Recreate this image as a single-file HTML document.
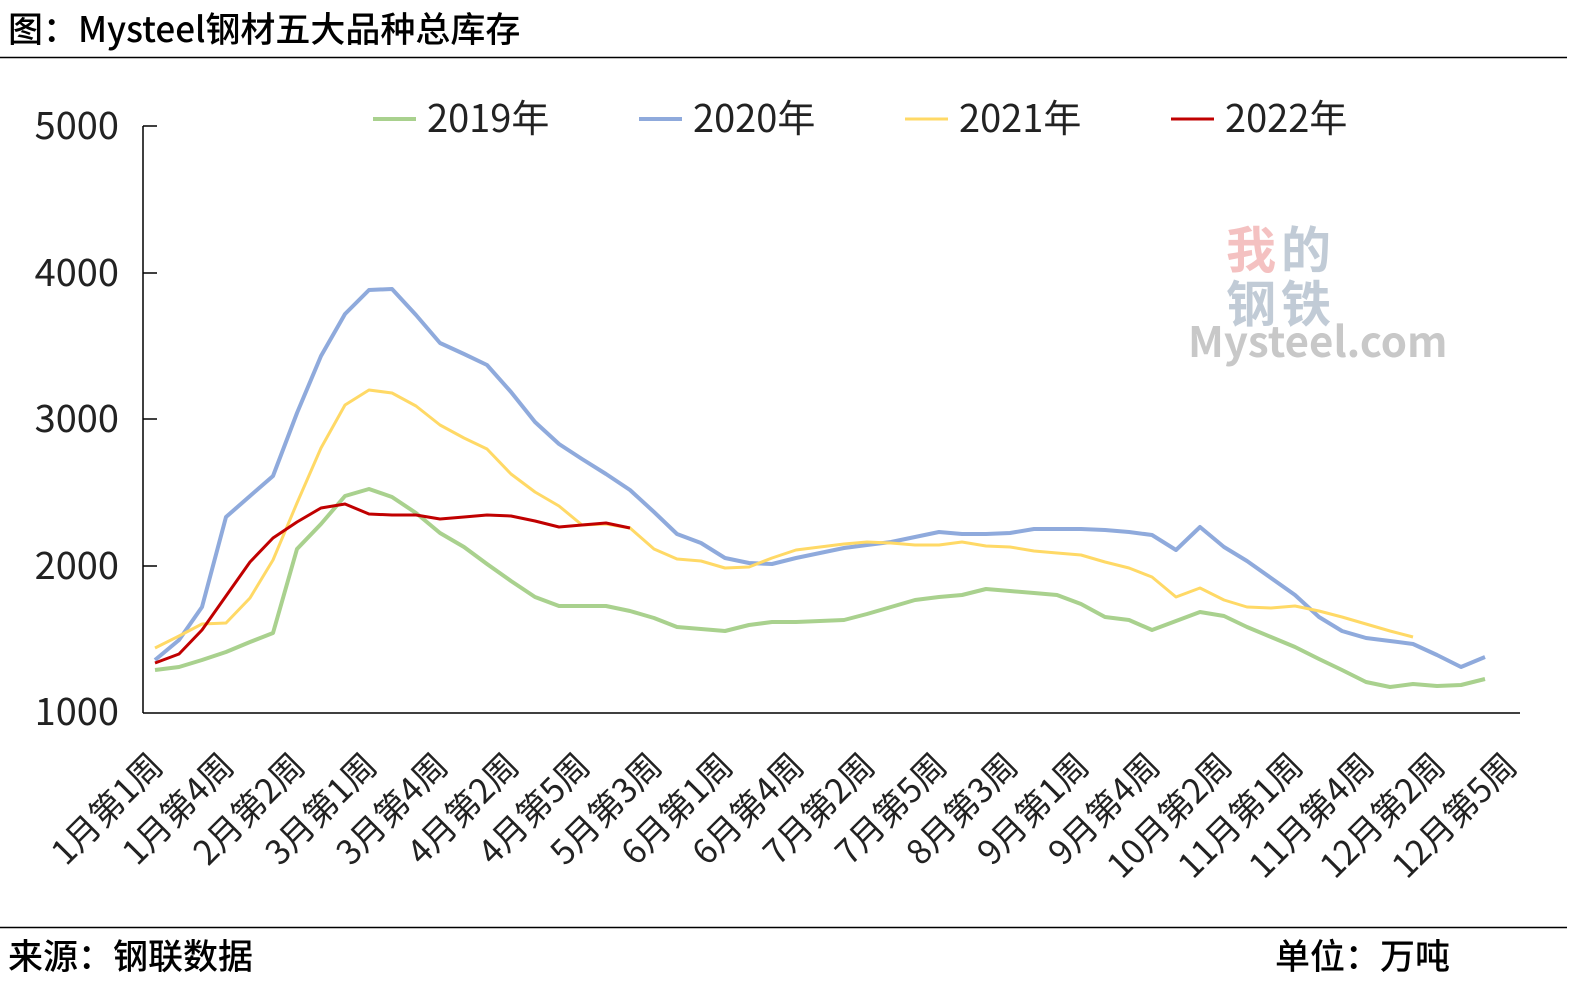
<!DOCTYPE html>
<html><head><meta charset="utf-8"><style>
body{margin:0;background:#fff;}
svg{display:block;font-family:"Noto Sans CJK SC","Liberation Sans",sans-serif;}
</style></head><body>
<svg width="1570" height="987" viewBox="0 0 1570 987" xmlns="http://www.w3.org/2000/svg">
<text x="8" y="42" font-size="35" font-weight="500" fill="#000">图：Mysteel钢材五大品种总库存</text>
<line x1="0" y1="57.5" x2="1567" y2="57.5" stroke="#000" stroke-width="1.5"/>
<line x1="0" y1="927.5" x2="1567" y2="927.5" stroke="#000" stroke-width="1.5"/>
<text x="8" y="969" font-size="35" font-weight="500" fill="#000">来源：钢联数据</text>
<text x="1275" y="969" font-size="35" font-weight="500" fill="#000">单位：万吨</text>
<!-- watermark -->
<text x="1226" y="268" font-size="50" fill="#e99" opacity="0.6" font-weight="bold">我</text>
<text x="1281" y="268" font-size="50" fill="#9ab" opacity="0.6" font-weight="bold">的</text>
<text x="1226" y="322" font-size="50" fill="#9ab" opacity="0.6" font-weight="bold">钢</text>
<text x="1281" y="322" font-size="50" fill="#9ab" opacity="0.6" font-weight="bold">铁</text>
<text x="1188" y="357" font-size="42" fill="#bbb" opacity="0.8" font-weight="bold">Mysteel.com</text>
<!-- axes -->
<g stroke="#000" stroke-width="1.5">
<line x1="143" y1="126" x2="143" y2="713"/>
<line x1="143" y1="713" x2="1520" y2="713"/>
<line x1="143" y1="126" x2="157" y2="126"/>
<line x1="143" y1="273" x2="157" y2="273"/>
<line x1="143" y1="419" x2="157" y2="419"/>
<line x1="143" y1="566" x2="157" y2="566"/>
</g>
<g font-size="38" fill="#222" text-anchor="end">
<text x="119" y="139">5000</text>
<text x="119" y="286">4000</text>
<text x="119" y="432">3000</text>
<text x="119" y="579">2000</text>
<text x="119" y="725">1000</text>
</g>
<!-- legend -->
<g font-size="38" fill="#222">
<line x1="373" y1="119" x2="416" y2="119" stroke="#a9d18e" stroke-width="4"/><text x="427" y="132">2019年</text>
<line x1="639" y1="119" x2="682" y2="119" stroke="#8faadc" stroke-width="4"/><text x="693" y="132">2020年</text>
<line x1="905" y1="119" x2="948" y2="119" stroke="#ffd966" stroke-width="3"/><text x="959" y="132">2021年</text>
<line x1="1171" y1="119" x2="1214" y2="119" stroke="#c00000" stroke-width="3"/><text x="1225" y="132">2022年</text>
</g>
<g fill="none" stroke-linejoin="round">
<polyline stroke="#a9d18e" stroke-width="4" points="155,670 179,667 202,660 226,652 250,642 273,633 297,549 321,524 345,496 369,489 392,497 416,513 440,533 464,547 487,564 511,581 535,597 559,606 582,606 606,606 630,611 654,618 677,627 701,629 725,631 749,625 772,622 796,622 820,621 844,620 867,614 891,607 915,600 939,597 962,595 986,589 1010,591 1034,593 1057,595 1081,604 1105,617 1129,620 1152,630 1176,621 1200,612 1224,616 1247,627 1271,637 1295,647 1319,659 1342,670 1366,682 1390,687 1413,684 1437,686 1461,685 1485,679"/>
<polyline stroke="#8faadc" stroke-width="4" points="155,660 179,640 202,607 226,517 250,496 273,476 297,413 321,356 345,314 369,290 392,289 416,315 440,343 464,354 487,365 511,392 535,422 559,444 582,459 606,474 630,490 654,512 677,534 701,543 725,558 749,563 772,564 796,558 820,553 844,548 867,545 891,542 915,537 939,532 962,534 986,534 1010,533 1034,529 1057,529 1081,529 1105,530 1129,532 1152,535 1176,550 1200,527 1224,547 1247,561 1271,578 1295,595 1319,617 1342,631 1366,638 1390,641 1413,644 1437,655 1461,667 1485,657"/>
<polyline stroke="#ffd966" stroke-width="3" points="155,648 179,636 202,624 226,623 250,598 273,560 297,503 321,448 345,405 369,390 392,393 416,406 440,425 464,438 487,449 511,474 535,492 559,506 582,525 606,524 630,528 654,549 677,559 701,561 725,568 749,567 772,558 796,550 820,547 844,544 867,542 891,543 915,545 939,545 962,542 986,546 1010,547 1034,551 1057,553 1081,555 1105,562 1129,568 1152,577 1176,597 1200,588 1224,600 1247,607 1271,608 1295,606 1319,611 1342,617 1366,624 1390,631 1413,637"/>
<polyline stroke="#c00000" stroke-width="3" points="155,663 179,654 202,630 226,596 250,562 273,538 297,522 321,508 345,504 369,514 392,515 416,515 440,519 464,517 487,515 511,516 535,521 559,527 582,525 606,523 630,528"/>
</g>
<!-- x labels -->
<g font-size="34" fill="#222" text-anchor="end">
<text transform="translate(165,768) rotate(-45)">1月第1周</text>
<text transform="translate(236,768) rotate(-45)">1月第4周</text>
<text transform="translate(307,768) rotate(-45)">2月第2周</text>
<text transform="translate(379,768) rotate(-45)">3月第1周</text>
<text transform="translate(450,768) rotate(-45)">3月第4周</text>
<text transform="translate(521,768) rotate(-45)">4月第2周</text>
<text transform="translate(592,768) rotate(-45)">4月第5周</text>
<text transform="translate(664,768) rotate(-45)">5月第3周</text>
<text transform="translate(735,768) rotate(-45)">6月第1周</text>
<text transform="translate(806,768) rotate(-45)">6月第4周</text>
<text transform="translate(877,768) rotate(-45)">7月第2周</text>
<text transform="translate(949,768) rotate(-45)">7月第5周</text>
<text transform="translate(1020,768) rotate(-45)">8月第3周</text>
<text transform="translate(1091,768) rotate(-45)">9月第1周</text>
<text transform="translate(1162,768) rotate(-45)">9月第4周</text>
<text transform="translate(1234,768) rotate(-45)">10月第2周</text>
<text transform="translate(1305,768) rotate(-45)">11月第1周</text>
<text transform="translate(1376,768) rotate(-45)">11月第4周</text>
<text transform="translate(1447,768) rotate(-45)">12月第2周</text>
<text transform="translate(1519,768) rotate(-45)">12月第5周</text>
</g>
</svg>
</body></html>
